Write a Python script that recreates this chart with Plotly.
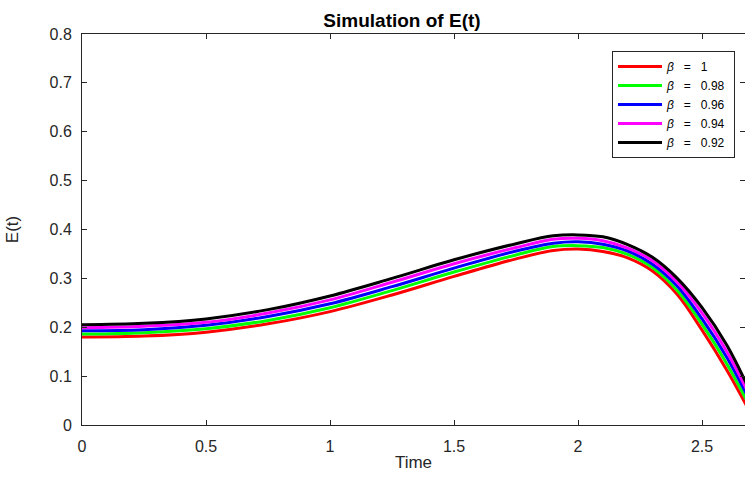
import plotly.graph_objects as go

t = [0, 0.25, 0.5, 0.75, 1.0, 1.25, 1.5, 1.75, 1.9, 2.0, 2.1, 2.2, 2.3, 2.4, 2.5, 2.6, 2.7]
e_b100 = [0.180, 0.182, 0.190, 0.207, 0.232, 0.266, 0.304, 0.340, 0.357, 0.360, 0.355, 0.342, 0.315, 0.267, 0.194, 0.112, 0.020]
e_b098 = [0.186, 0.189, 0.197, 0.214, 0.240, 0.275, 0.313, 0.348, 0.365, 0.367, 0.363, 0.349, 0.322, 0.275, 0.206, 0.125, 0.031]
e_b096 = [0.193, 0.195, 0.204, 0.222, 0.248, 0.283, 0.321, 0.356, 0.372, 0.375, 0.370, 0.356, 0.329, 0.284, 0.217, 0.138, 0.042]
e_b094 = [0.199, 0.202, 0.210, 0.229, 0.256, 0.292, 0.330, 0.363, 0.380, 0.382, 0.377, 0.362, 0.336, 0.292, 0.229, 0.150, 0.052]
e_b092 = [0.205, 0.208, 0.217, 0.236, 0.264, 0.300, 0.338, 0.371, 0.387, 0.389, 0.385, 0.369, 0.343, 0.300, 0.240, 0.163, 0.062]

beta_labels = ["1", "0.98", "0.96", "0.94", "0.92"]
series = [e_b100, e_b098, e_b096, e_b094, e_b092]
colors = ["#ff0000", "#00ff00", "#0000ff", "#ff00ff", "#000000"]

x_ticks = [0, 0.5, 1, 1.5, 2, 2.5]
x_labels = ["0", "0.5", "1", "1.5", "2", "2.5"]
y_ticks = [0, 0.1, 0.2, 0.3, 0.4, 0.5, 0.6, 0.7, 0.8]
y_labels = ["0", "0.1", "0.2", "0.3", "0.4", "0.5", "0.6", "0.7", "0.8"]

fig = go.Figure()
for b, ys, c in zip(beta_labels, series, colors):
    name = "<i>β</i>&nbsp;&nbsp;&nbsp;=&nbsp;&nbsp;&nbsp;" + b + "&nbsp;"
    fig.add_trace(go.Scatter(x=t, y=ys, mode="lines", name=name,
                             line=dict(color=c, width=3, shape="spline", smoothing=1.0)))

# invisible trace for right-side ticks
fig.add_trace(go.Scatter(x=[None], y=[None], yaxis="y2", showlegend=False, hoverinfo="skip"))

font_family = "Liberation Sans, Arial, sans-serif"
axis_color = "#262626"

L, T, B, R = 82, 34, 425, 745
fig.update_layout(
    width=745, height=477,
    margin=dict(l=L, r=745 - R, t=T, b=477 - B),
    paper_bgcolor="white", plot_bgcolor="white",
    font=dict(family=font_family, size=16, color=axis_color),
    title=dict(text="<b>Simulation of E(t)</b>", x=402/745, xref="container", xanchor="center",
               y=1 - 20/477, yref="container", yanchor="middle",
               font=dict(size=19, color="#000000", family=font_family)),
    xaxis=dict(range=[0, 2.673], tickvals=x_ticks, ticktext=x_labels, automargin=False,
               ticks="inside", ticklen=5, tickcolor=axis_color, showline=True, linecolor=axis_color,
               linewidth=1, mirror="ticks", showgrid=False, zeroline=False, ticklabelstandoff=7,
               title=dict(text="Time", font=dict(size=17), standoff=1)),
    yaxis=dict(range=[0, 0.8], tickvals=y_ticks, ticktext=y_labels, automargin=False,
               ticks="inside", ticklen=5, tickcolor=axis_color, showline=True, linecolor=axis_color,
               linewidth=1, showgrid=False, zeroline=False, ticklabelstandoff=6,
               title=dict(text="E(t)", font=dict(size=17), standoff=26)),
    yaxis2=dict(range=[0, 0.8], tickvals=y_ticks, overlaying="y", side="right", automargin=False,
                ticks="inside", ticklen=5, tickcolor=axis_color, showline=False,
                showticklabels=False, showgrid=False, zeroline=False),
    legend=dict(x=(735 - L) / (R - L), xanchor="right", y=(B - 51) / (B - T), yanchor="top",
                bgcolor="white", bordercolor=axis_color, borderwidth=1,
                font=dict(size=12, color="#000000"), tracegroupgap=0, itemwidth=44),
    showlegend=True,
)

fig.write_html("out.html", config={"displayModeBar": False},
               post_script="document.body.style.margin='0px';")
